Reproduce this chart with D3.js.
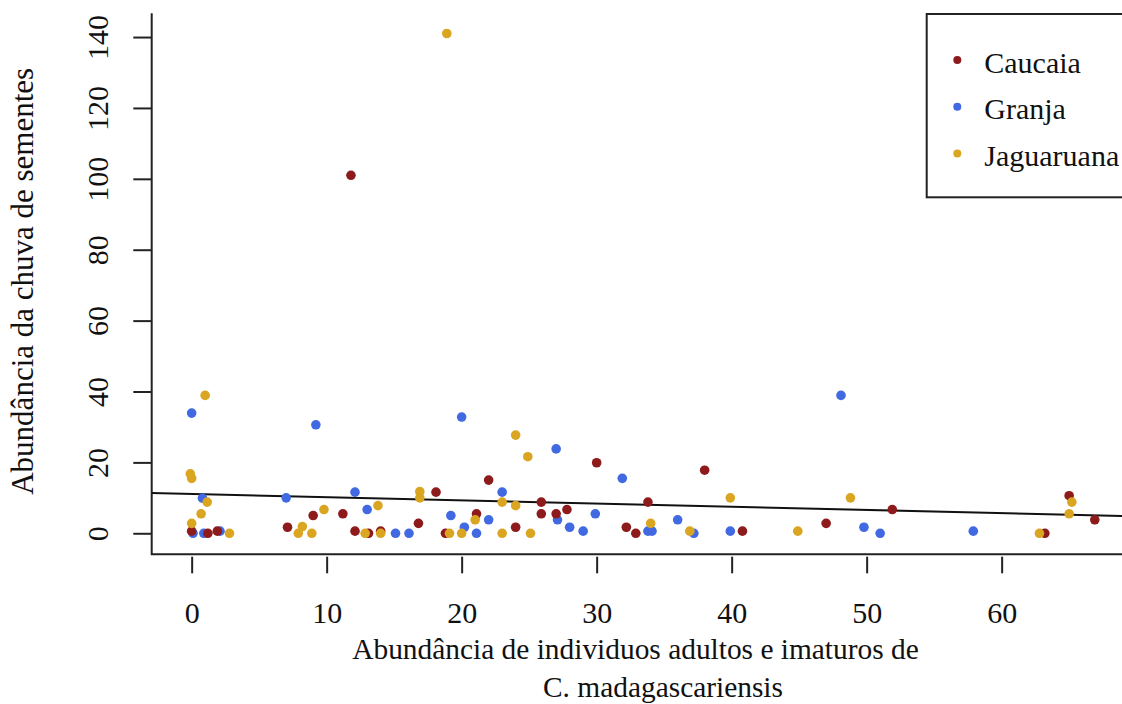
<!DOCTYPE html>
<html>
<head>
<meta charset="utf-8">
<script src="https://cdn.jsdelivr.net/npm/d3@7"></script>
<style>
  body { margin: 0; background: #fff; }
  svg text { font-family: "Liberation Serif", "Times New Roman", serif; fill: #111; }
</style>
</head>
<body>
<div id="chart"></div>
<script>
// data
const sites = ['Caucaia', 'Granja', 'Jaguaruana'];
const siteColors = ['#8e1b1b', '#4169e1', '#daa520'];

const caucaiaX = [0, 1.2, 1.9, 7.1, 9.0, 11.2, 11.8, 12.1, 13.1, 14.0, 16.8, 18.1, 18.8, 21.1, 22.0, 24.0,
  25.9, 25.9, 27.0, 27.8, 30.0, 32.2, 32.9, 33.8, 38.0, 40.8, 47.0, 51.9, 63.2, 65.0, 66.9];
const caucaiaY = [0.6, 0, 0.6, 1.7, 5.0, 5.5, 101, 0.6, 0, 0.6, 2.8, 11.6, 0, 5.5, 15.0, 1.7,
  8.8, 5.5, 5.5, 6.7, 19.9, 1.7, 0, 8.8, 17.8, 0.6, 2.8, 6.7, 0, 10.6, 3.8];

const granjaX = [0, 0.1, 0.9, 0.8, 2.1, 7.0, 9.2, 12.1, 13.0, 15.1, 16.1, 19.2, 20.0, 20.2, 21.1, 22.0,
  23.0, 27.0, 27.1, 28.0, 29.0, 29.9, 31.9, 33.8, 34.1, 36.0, 37.2, 39.9, 48.1, 49.8, 51.0, 57.9];
const granjaY = [33.9, 0, 0, 9.9, 0.6, 10.0, 30.6, 11.6, 6.7, 0, 0, 5.0, 32.8, 1.7, 0, 3.8,
  11.6, 23.8, 3.8, 1.7, 0.6, 5.5, 15.5, 0.6, 0.6, 3.8, 0, 0.6, 38.9, 1.7, 0, 0.6];

const jaguaruanaX = [1.0, -0.1, 0, 1.15, 0.7, 0, 2.8, 8.2, 7.9, 8.9, 9.8, 12.85, 13.8, 14.0, 16.9, 16.9,
  18.9, 19.1, 20.0, 21.0, 23.0, 23.0, 24.0, 24.0, 24.9, 25.1, 34.0, 36.9, 39.9, 44.9, 48.8, 62.8, 65.2, 65.0];
const jaguaruanaY = [38.9, 16.75, 15.5, 8.8, 5.5, 2.8, 0, 1.9, 0, 0, 6.7, 0, 7.8, 0, 11.75, 10.0,
  141, 0, 0, 3.8, 8.8, 0, 27.7, 7.8, 21.6, 0, 2.8, 0.6, 10.0, 0.6, 10.0, 0, 8.8, 5.5];

const xTicks = [0, 10, 20, 30, 40, 50, 60];
const yTicks = [0, 20, 40, 60, 80, 100, 120, 140];
// fitted line: intercept, slope
const trendCoef = [11.1, -0.09];

const xTitle = ['Abundância de individuos adultos e imaturos de', 'C. madagascariensis'];
const yTitle = 'Abundância da chuva de sementes';

const width = 1122, height = 704;
const fontSize = 30;

const svg = d3.select('#chart').append('svg')
  .attr('width', width)
  .attr('height', height);

const x = d3.scaleLinear().domain([-2.96, 76.96]).range([151.7, 1230.6]);
const y = d3.scaleLinear().domain([-5.93, 146.7]).range([554.3, 13.3]);

// box (left + bottom only)
svg.append('path')
  .attr('d', `M${x.range()[0]},${y.range()[1]}V${y.range()[0]}H${x.range()[1]}`)
  .attr('fill', 'none')
  .attr('stroke', '#222')
  .attr('stroke-width', 2);

// x axis ticks sit a little below the box
const xAxis = svg.append('g')
  .attr('transform', 'translate(0,556.7)')
  .call(d3.axisBottom(x).tickValues(xTicks).tickSize(16.6).tickSizeOuter(0));
xAxis.select('.domain').remove();
xAxis.selectAll('line').attr('stroke', '#222').attr('stroke-width', 2);
xAxis.selectAll('text')
  .attr('y', 66.6).attr('dy', 0)
  .style('font-size', fontSize + 'px')
  .attr('fill', '#111');

// y axis
const yAxis = svg.append('g')
  .attr('transform', 'translate(151.7,0)')
  .call(d3.axisLeft(y).tickValues(yTicks).tickSize(18.4).tickSizeOuter(0));
yAxis.select('.domain').remove();
yAxis.selectAll('line').attr('stroke', '#222').attr('stroke-width', 2);
yAxis.selectAll('text')
  .attr('x', null).attr('dy', null)
  .attr('transform', 'translate(-43.4,0) rotate(-90)')
  .attr('text-anchor', 'middle')
  .style('font-size', fontSize + 'px')
  .attr('fill', '#111');

// titles
svg.append('text')
  .attr('x', 635.5).attr('y', 659.3)
  .attr('text-anchor', 'middle')
  .style('font-size', '29.4px')
  .text(xTitle[0]);
svg.append('text')
  .attr('x', 663).attr('y', 696.7)
  .attr('text-anchor', 'middle')
  .style('font-size', '29.4px')
  .text(xTitle[1]);
svg.append('text')
  .attr('transform', 'translate(33.3,281.3) rotate(-90)')
  .attr('text-anchor', 'middle')
  .style('font-size', '31px')
  .text(yTitle);

// trend line
const [x0, x1] = x.domain();
svg.append('line')
  .attr('x1', x(x0)).attr('y1', y(trendCoef[0] + trendCoef[1] * x0))
  .attr('x2', x(x1)).attr('y2', y(trendCoef[0] + trendCoef[1] * x1))
  .attr('stroke', '#111')
  .attr('stroke-width', 2);

// points
const series = [
  { name: 'Granja', xs: granjaX, ys: granjaY },
  { name: 'Caucaia', xs: caucaiaX, ys: caucaiaY },
  { name: 'Jaguaruana', xs: jaguaruanaX, ys: jaguaruanaY }
];
const color = d3.scaleOrdinal().domain(sites).range(siteColors);

series.forEach(s => {
  svg.append('g').selectAll('circle')
    .data(s.xs.map((v, i) => [v, s.ys[i]]))
    .join('circle')
    .attr('cx', d => x(d[0]))
    .attr('cy', d => y(d[1]))
    .attr('r', 4.8)
    .attr('fill', color(s.name));
});

// legend
const legend = svg.append('g');
legend.append('rect')
  .attr('x', 926.7).attr('y', 14)
  .attr('width', 240).attr('height', 183.3)
  .attr('fill', '#fff')
  .attr('stroke', '#222')
  .attr('stroke-width', 2);
sites.forEach((name, i) => {
  const cy = 60 + i * 46.7;
  legend.append('circle')
    .attr('cx', 957.3).attr('cy', cy)
    .attr('r', 4)
    .attr('fill', color(name));
  legend.append('text')
    .attr('x', 984.3).attr('y', cy + 12.7)
    .style('font-size', fontSize + 'px')
    .text(name);
});
</script>
</body>
</html>
